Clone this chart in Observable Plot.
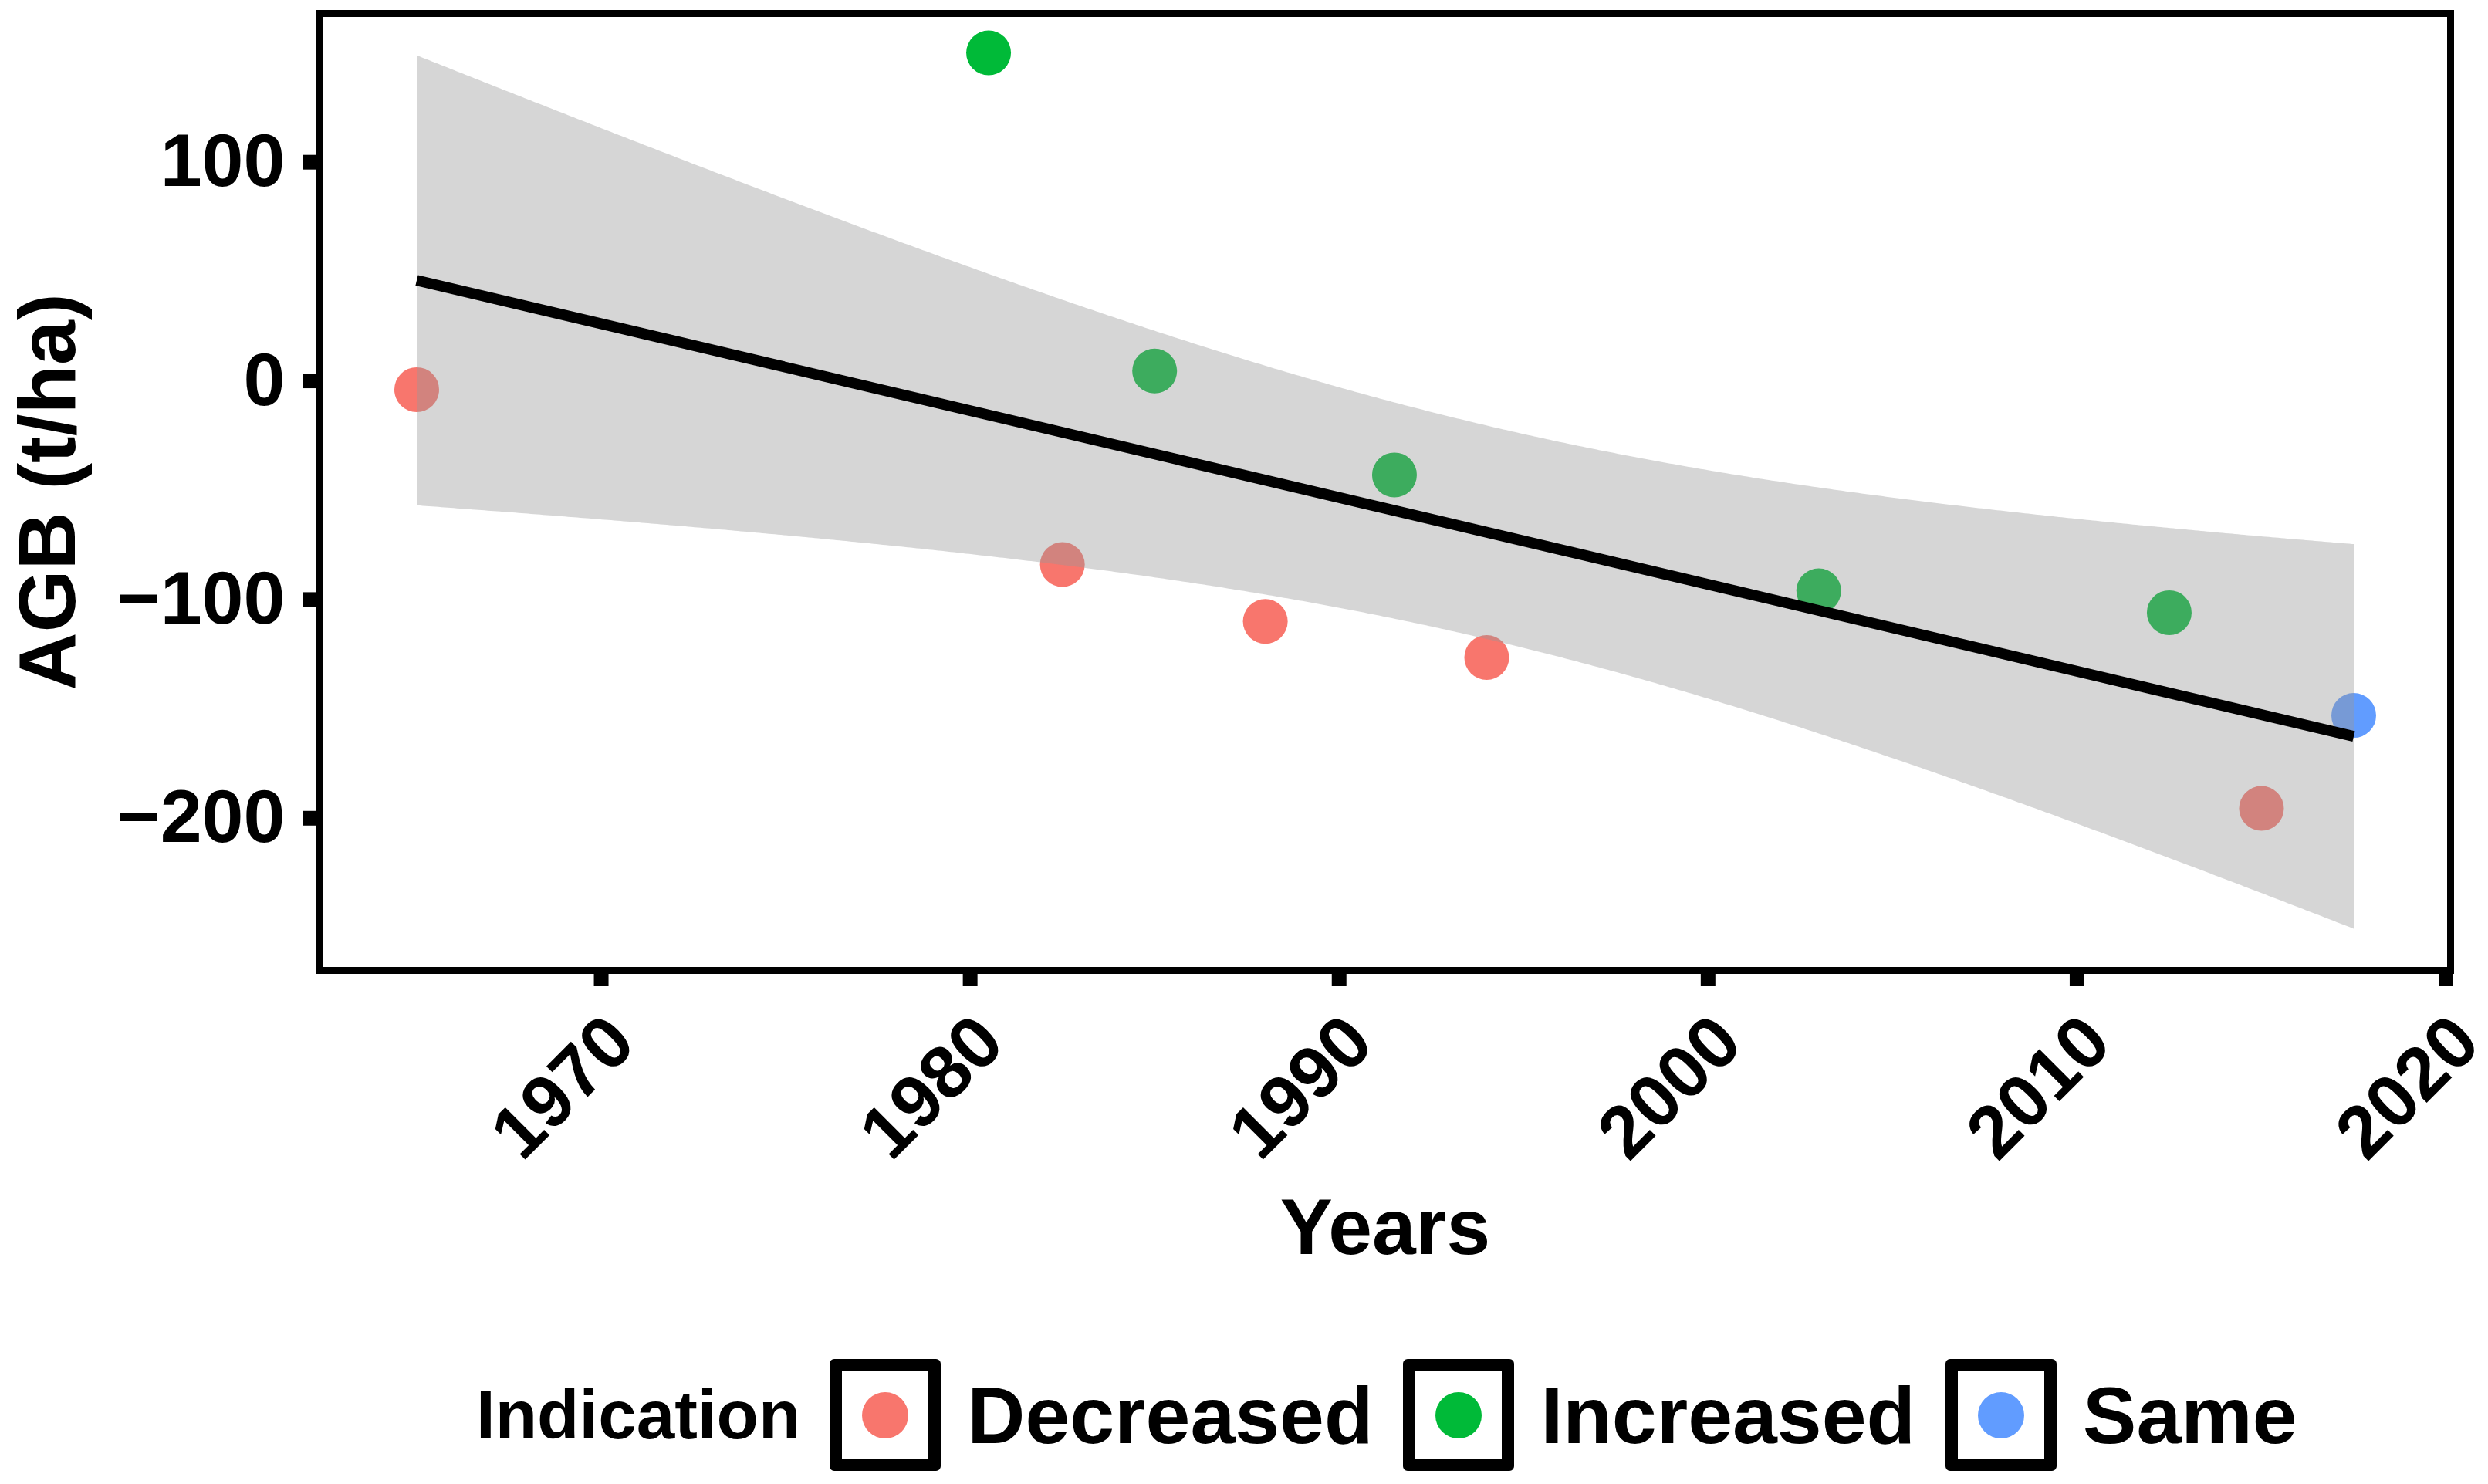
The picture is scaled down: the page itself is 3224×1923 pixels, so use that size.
<!DOCTYPE html>
<html><head><meta charset="utf-8">
<script src="https://cdn.jsdelivr.net/npm/d3@7"></script>
<script src="https://cdn.jsdelivr.net/npm/@observablehq/plot@0.6"></script>
<style>
html,body{margin:0;padding:0;background:#fff;}
#wrap{position:relative;width:3224px;height:1923px;font-family:"Liberation Sans",Arial,sans-serif;font-weight:bold;color:#000;}
#legend{position:absolute;left:617px;top:1761px;height:145px;display:flex;align-items:center;}
.ltitle{font-size:89px;line-height:1;margin-right:38px;}
.key{box-sizing:border-box;width:144px;height:145px;border:16px solid #000;border-radius:6px;display:flex;align-items:center;justify-content:center;margin-right:34px;background:#fff}
.key span{width:60px;height:60px;border-radius:50%;display:block}
.llabel{font-size:104px;line-height:1;margin-right:39px;}
</style></head>
<body><div id="wrap"><div id="chart"></div><div id="legend"></div></div>
<script>
const years = [1965, 1980.5, 1982.5, 1985, 1988, 1991.5, 1994, 2003, 2012.5, 2015, 2017.5];
const agb = [-4, 150, -84, 4.5, -110, -43, -126.5, -96, -106, -195.5, -153];
const indication = ["Decreased","Increased","Decreased","Increased","Decreased","Increased","Decreased","Increased","Increased","Decreased","Same"];
const categories = ["Decreased","Increased","Same"];
const colors = ["#F8766D","#00BA38","#619CFF"];
const xTicks = [1970,1980,1990,2000,2010,2020];
const yTicks = [-200,-100,0,100];
const xTitle = "Years";
const yTitle = "AGB (t/ha)";
const legendTitle = "Indication";

const data = years.map((y,i)=>({year:y, agb:agb[i], indication:indication[i]}));
const fmt = d => d < 0 ? "\u2212" + Math.abs(d) : String(d);

const W = 3224, H = 1700, innerBottom = 1257, mL = 414;
const chart = Plot.plot({
  width: W, height: H,
  marginLeft: mL, marginRight: 49, marginTop: 17, marginBottom: H - innerBottom,
  style: {fontFamily: '"Liberation Sans", Arial, sans-serif', fontWeight: "bold", background: "#fff", color: "#000", overflow: "visible"},
  x: {domain: [1962.375, 2020.125]},
  y: {domain: [-269.6, 168]},
  color: {domain: categories, range: colors},
  marks: [
    Plot.dot(data, {x: "year", y: "agb", fill: "indication", r: 29}),
    Plot.linearRegressionY(data, {x: "year", y: "agb", fill: "#999999", fillOpacity: 0.4, stroke: "#000", strokeWidth: 14, strokeLinecap: "butt", ci: 0.95}),
    Plot.frame({stroke: "#000", strokeWidth: 9}),
    Plot.axisY({ticks: yTicks, tickSize: 21, tickPadding: 24, tickFormat: fmt, strokeWidth: 19, fontSize: 97, label: null}),
    Plot.axisX({ticks: xTicks, tickSize: 21, tickPadding: 29, tickRotate: -45, textAnchor: "end", lineAnchor: "top", strokeWidth: 19, fontSize: 96, tickFormat: d => String(d), label: null}),
    Plot.text([xTitle], {text: d => d, frameAnchor: "bottom", dy: 1624 - innerBottom, lineAnchor: "bottom", fontSize: 102, fontWeight: "bold"}),
    Plot.text([yTitle], {text: d => d, frameAnchor: "left", dx: 96 - mL, rotate: -90, textAnchor: "middle", lineAnchor: "bottom", fontSize: 104, fontWeight: "bold"})
  ]
});
document.getElementById("chart").appendChild(chart);

const legend = document.getElementById("legend");
const t = document.createElement("div"); t.className = "ltitle"; t.textContent = legendTitle; legend.appendChild(t);
categories.forEach((c, i) => {
  const k = document.createElement("div"); k.className = "key";
  const s = document.createElement("span"); s.style.background = colors[i]; k.appendChild(s);
  legend.appendChild(k);
  const l = document.createElement("div"); l.className = "llabel"; l.textContent = c; legend.appendChild(l);
});
</script>
</body></html>
